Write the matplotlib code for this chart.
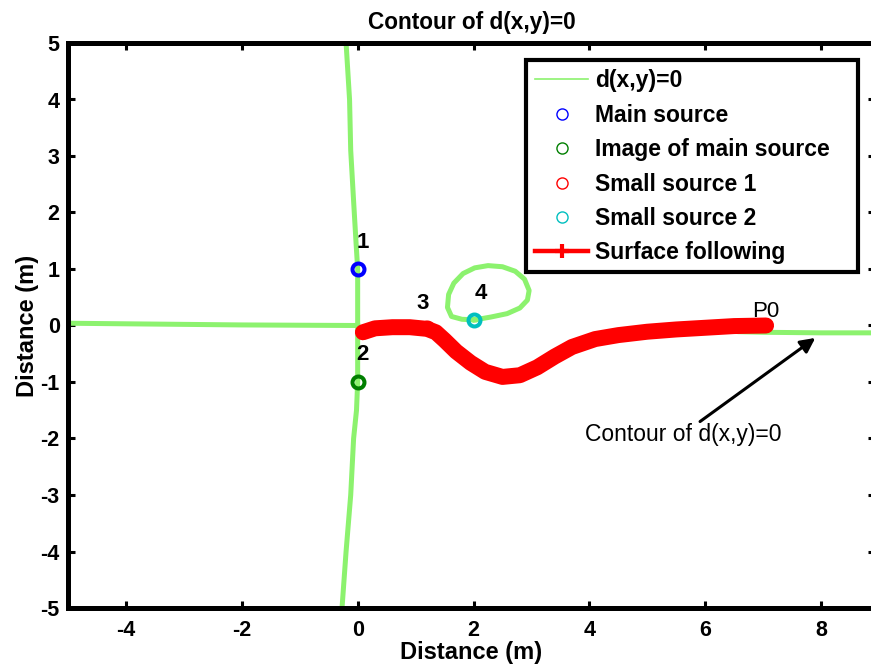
import matplotlib
matplotlib.use("Agg")
import matplotlib.pyplot as plt
from matplotlib.lines import Line2D
from matplotlib.patches import Rectangle

plt.rcParams['font.family'] = ['Liberation Sans', 'DejaVu Sans']
plt.rcParams['axes.unicode_minus'] = False

# Zero contour of d(x, y): vertical branch through the sources, left branch,
# right branch beyond P0 and the closed loop around small source 2
contour_vert_x = [-0.20, -0.17, -0.14, -0.12, -0.07, -0.03, 0.0, 0.0, 0.0, -0.02, -0.07, -0.12, -0.20, -0.27]
contour_vert_y = [5.0, 4.5, 4.0, 3.1, 2.2, 1.5, 1.0, 0.0, -1.0, -1.5, -2.0, -3.0, -4.0, -5.0]
contour_left_x = [-5.0, -4.0, -2.0, -1.0, 0.0]
contour_left_y = [0.04, 0.03, 0.01, 0.005, 0.0]
contour_right_x = [6.6, 7.0, 8.0, 9.0]
contour_right_y = [-0.11, -0.12, -0.13, -0.13]
loop_x = [2.02, 1.80, 1.62, 1.55, 1.57, 1.66, 1.82, 2.02, 2.25, 2.50, 2.72, 2.88, 2.96, 2.93, 2.80, 2.58, 2.30, 2.02]
loop_y = [0.10, 0.11, 0.16, 0.32, 0.55, 0.75, 0.92, 1.02, 1.06, 1.04, 0.96, 0.82, 0.62, 0.45, 0.31, 0.21, 0.15, 0.10]

# Sources
main_src = (0.0, 1.0)
image_src = (0.0, -1.0)
small_src1 = (1.2, -0.05)
small_src2 = (2.0, 0.10)

# Surface-following trajectory
track_x = [0.09, 0.3, 0.6, 0.9, 1.2, 1.35, 1.5, 1.7, 1.95, 2.2, 2.5, 2.8, 3.1, 3.4,
           3.7, 4.1, 4.5, 5.0, 5.5, 6.0, 6.5, 7.05]
track_y = [-0.12, -0.05, -0.03, -0.03, -0.06, -0.12, -0.26, -0.46, -0.66, -0.82, -0.91,
           -0.88, -0.74, -0.55, -0.38, -0.24, -0.17, -0.11, -0.07, -0.04, -0.01, 0.0]

point_labels = ['1', '2', '3', '4']
point_label_x = [0.09, 0.09, 1.12, 2.12]
point_label_y = [1.47, -0.52, 0.39, 0.56]

GREEN = '#8CF26E'
fig = plt.figure(figsize=(8.71, 6.64), dpi=100)
ax = fig.add_axes([68 / 871, 1 - 608 / 664, (875 - 68) / 871, (608 - 43) / 664])

lw_c = 3.6
ax.plot(contour_vert_x, contour_vert_y, color=GREEN, lw=lw_c, zorder=2)
ax.plot(contour_left_x, contour_left_y, color=GREEN, lw=lw_c, zorder=2)
ax.plot(contour_right_x, contour_right_y, color=GREEN, lw=lw_c, zorder=2)
ax.plot(loop_x, loop_y, color=GREEN, lw=lw_c, zorder=2)

ax.plot(*small_src1, 'o', mfc='none', mec='red', ms=8.6, mew=2.9, zorder=3)
ax.plot(track_x, track_y, color='red', lw=11.5, solid_capstyle='round',
        solid_joinstyle='round', zorder=4)

ax.plot(*main_src, 'o', mfc='none', mec='#0000FF', ms=8.6, mew=2.9, zorder=5)
ax.plot(*image_src, 'o', mfc='none', mec='#007F00', ms=8.6, mew=2.9, zorder=5)
ax.plot(*small_src2, 'o', mfc='none', mec='#00BFBF', ms=8.6, mew=2.9, zorder=5)

for t, x, y in zip(point_labels, point_label_x, point_label_y):
    ax.text(x, y, t, fontsize=16, fontweight='bold', ha='center', va='center', zorder=6)

ax.text(6.81, 0.06, 'P0', fontsize=16, ha='left', va='bottom', zorder=6)

# Arrow pointing at the right branch of the contour
ax.annotate('', xy=(7.9, -0.22), xytext=(5.91, -1.70),
            arrowprops=dict(arrowstyle='-|>', color='black', lw=2.2,
                            mutation_scale=22, shrinkA=0, shrinkB=0), zorder=6)
ax.text(5.62, -1.93, 'Contour of d(x,y)=0', fontsize=16.5, ha='center', va='center', zorder=6)

ax.set_xlim(-5, 8.93)
ax.set_ylim(-5, 5)
ax.set_xticks([-4, -2, 0, 2, 4, 6, 8])
ax.set_yticks(range(-5, 6))
ax.tick_params(direction='in', length=5, width=2.2, top=True, right=True,
               labelsize=15.5, pad=6)
ax.tick_params(axis='x', pad=9)
for lab in ax.get_xticklabels() + ax.get_yticklabels():
    lab.set_fontweight('bold')
for sp in ax.spines.values():
    sp.set_linewidth(3.6)

ax.set_xlabel('Distance (m)', fontsize=17, fontweight='bold', labelpad=0)
ax.set_ylabel('Distance (m)', fontsize=17, fontweight='bold', labelpad=1)
ax.set_title('Contour of d(x,y)=0', fontsize=16.3, fontweight='bold', pad=10)

handles = [
    Line2D([], [], color=GREEN, lw=1.2),
    Line2D([], [], ls='none', marker='o', mfc='none', mec='#0000FF', ms=8, mew=1),
    Line2D([], [], ls='none', marker='o', mfc='none', mec='#007F00', ms=8, mew=1),
    Line2D([], [], ls='none', marker='o', mfc='none', mec='red', ms=8, mew=1),
    Line2D([], [], ls='none', marker='o', mfc='none', mec='#00BFBF', ms=8, mew=1),
    Line2D([], [], color='red', lw=3.2, marker='+', ms=10, mew=3),
]
labels = ['d(x,y)=0', 'Main source', 'Image of main source', 'Small source 1',
          'Small source 2', 'Surface following']
leg = fig.legend(handles, labels, loc='upper left',
                 bbox_to_anchor=(526 / 871, 1 - 60 / 664), borderaxespad=0,
                 prop={'weight': 'bold', 'size': 16.5}, frameon=False,
                 handlelength=2.3, handletextpad=0.3, labelspacing=0.5,
                 borderpad=0.4)

# Legend frame drawn as a fixed box in figure pixels
fig.add_artist(Rectangle((526 / 871, 1 - 272 / 664), (858 - 526) / 871, (272 - 60) / 664,
                         transform=fig.transFigure, fill=True, facecolor='white',
                         edgecolor='black', lw=3, zorder=4))
leg.set_zorder(5)

fig.savefig('out.png', dpi=100)
